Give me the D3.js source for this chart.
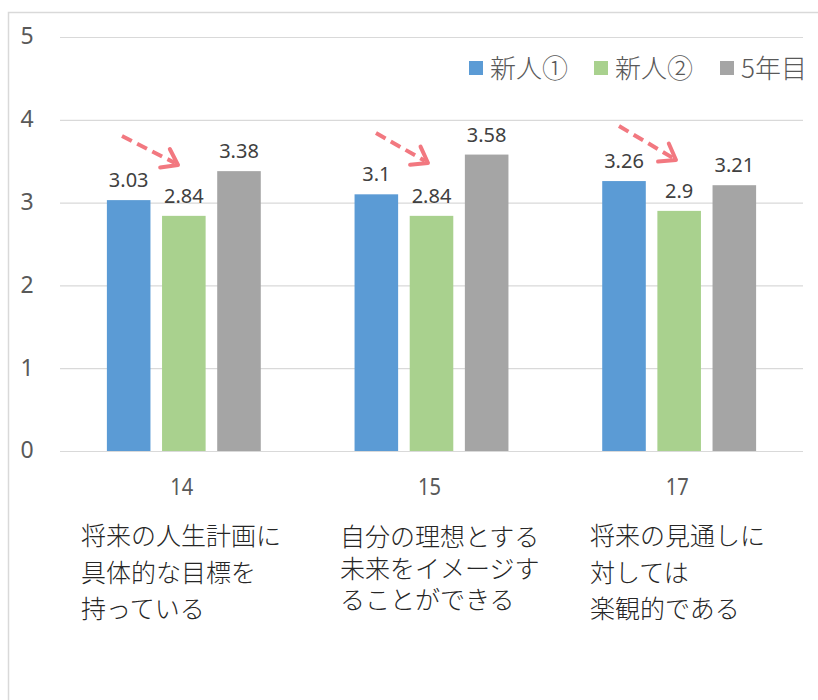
<!DOCTYPE html>
<html>
<head>
<meta charset="utf-8">
<script src="https://cdn.jsdelivr.net/npm/d3@7/dist/d3.min.js"></script>
<style>
  html, body { margin: 0; padding: 0; background: #fff; }
  svg { display: block; }
</style>
</head>
<body>
<svg id="chart" width="818" height="700"></svg>
<script>
// Item numbers and their question texts
const categories = ["14", "15", "17"];
const descriptions = [
  ["将来の人生計画に", "具体的な目標を", "持っている"],
  ["自分の理想とする", "未来をイメージす", "ることができる"],
  ["将来の見通しに", "対しては", "楽観的である"]
];
// Mean scores per group
const seriesNames = ["新人①", "新人②", "5年目"];
const newcomer1 = [3.03, 3.1, 3.26];
const newcomer2 = [2.84, 2.84, 2.9];
const fifthYear = [3.38, 3.58, 3.21];
const yTicks = [0, 1, 2, 3, 4, 5];

const seriesValues = [newcomer1, newcomer2, fifthYear];
const colors = ["#5b9bd5", "#a9d18e", "#a5a5a5"];

const svg = d3.select("#chart");
const font = "'Noto Sans CJK JP', 'Noto Sans', sans-serif";
const latin = "'Noto Sans', 'Open Sans', sans-serif";

// Outer frame (top and left edges visible)
svg.append("path")
  .attr("d", "M8.5,700 L8.5,12.5 L818,12.5")
  .attr("fill", "none")
  .attr("stroke", "#d9d9d9")
  .attr("stroke-width", 1.5);

const plotLeft = 60, plotRight = 803, plotTop = 37, plotBottom = 451;

const x = d3.scaleBand().domain(categories).range([plotLeft, plotRight]).padding(0);
const xs = d3.scaleBand().domain(d3.range(3)).range([0, x.bandwidth()])
  .paddingInner(0.21).paddingOuter(0.85);
const y = d3.scaleLinear().domain([0, 5]).range([plotBottom, plotTop]);

// Gridlines
svg.append("g").selectAll("line").data(yTicks).join("line")
  .attr("x1", plotLeft).attr("x2", plotRight)
  .attr("y1", d => y(d) + 0.5).attr("y2", d => y(d) + 0.5)
  .attr("stroke", "#d9d9d9").attr("stroke-width", 1.2);

// Y axis labels
const yAxis = d3.axisLeft(y).tickValues(yTicks).tickFormat(d3.format("d"))
  .tickSize(0).tickPadding(0);
const yg = svg.append("g").attr("transform", "translate(27,0)").call(yAxis);
yg.select(".domain").remove();
yg.selectAll("text")
  .attr("font-family", latin).attr("font-size", 23).attr("fill", "#595959")
  .attr("text-anchor", "middle").attr("dx", 0).attr("dy", "0.3em");

// Bars
const groups = svg.append("g").selectAll("g").data(categories).join("g")
  .attr("transform", d => `translate(${x(d)},0)`);

groups.each(function(cat, ci) {
  const g = d3.select(this);
  seriesValues.forEach((vals, si) => {
    const v = vals[ci];
    g.append("rect")
      .attr("x", xs(si)).attr("width", xs.bandwidth())
      .attr("y", y(v)).attr("height", y(0) - y(v))
      .attr("fill", colors[si]);
    g.append("text")
      .attr("x", xs(si) + xs.bandwidth() / 2)
      .attr("y", y(v) - 13)
      .attr("text-anchor", "middle")
      .attr("font-family", latin).attr("font-size", 20)
      .attr("fill", "#404040")
      .text(v);
  });
});

// Category labels
const xAxis = d3.axisBottom(x).tickSize(0).tickPadding(0);
const xg = svg.append("g").attr("transform", `translate(0,${plotBottom + 44})`).call(xAxis);
xg.select(".domain").remove();
xg.selectAll("text")
  .attr("font-family", latin).attr("font-size", 24).attr("fill", "#595959")
  .attr("dy", 0).attr("dx", -2)
  .attr("textLength", 23).attr("lengthAdjust", "spacingAndGlyphs");

// Question texts beneath each item
const descX = [81, 340, 590];
const descY = [[545, 582, 618], [546, 578, 609], [545, 582, 618]];
descriptions.forEach((lines, i) => {
  const t = svg.append("text")
    .attr("font-family", font).attr("font-size", 25).attr("font-weight", 300)
    .attr("fill", "#262626");
  lines.forEach((ln, j) => {
    t.append("tspan").attr("x", descX[i]).attr("y", descY[i][j]).text(ln);
  });
});

// Legend
const legendX = [469, 594, 720];
seriesNames.forEach((name, i) => {
  svg.append("rect")
    .attr("x", legendX[i]).attr("y", 61).attr("width", 14).attr("height", 14)
    .attr("fill", colors[i]);
  svg.append("text")
    .attr("x", legendX[i] + 21).attr("y", 78)
    .attr("font-family", font).attr("font-size", 26).attr("font-weight", 300)
    .attr("fill", "#595959")
    .text(name);
});

// Dashed pink arrows pointing at the 新人② bars
const arrowColor = "#f27880";
const arrows = [
  { from: [122, 136], to: [178, 165] },
  { from: [376, 133], to: [428, 163] },
  { from: [619, 126], to: [676, 160] }
];
arrows.forEach(a => {
  const [x1, y1] = a.from, [x2, y2] = a.to;
  svg.append("line")
    .attr("x1", x1).attr("y1", y1).attr("x2", x2 - 3).attr("y2", y2 - 2)
    .attr("stroke", arrowColor).attr("stroke-width", 4)
    .attr("stroke-dasharray", "11,6");
  const ang = Math.atan2(y2 - y1, x2 - x1);
  const len = 18, spread = 0.62;
  const p1 = [x2 - len * Math.cos(ang - spread), y2 - len * Math.sin(ang - spread)];
  const p2 = [x2 - len * Math.cos(ang + spread), y2 - len * Math.sin(ang + spread)];
  svg.append("path")
    .attr("d", `M${p1[0]},${p1[1]} L${x2},${y2} L${p2[0]},${p2[1]}`)
    .attr("fill", "none").attr("stroke", arrowColor)
    .attr("stroke-width", 4).attr("stroke-linecap", "round").attr("stroke-linejoin", "round");
});
</script>
</body>
</html>
